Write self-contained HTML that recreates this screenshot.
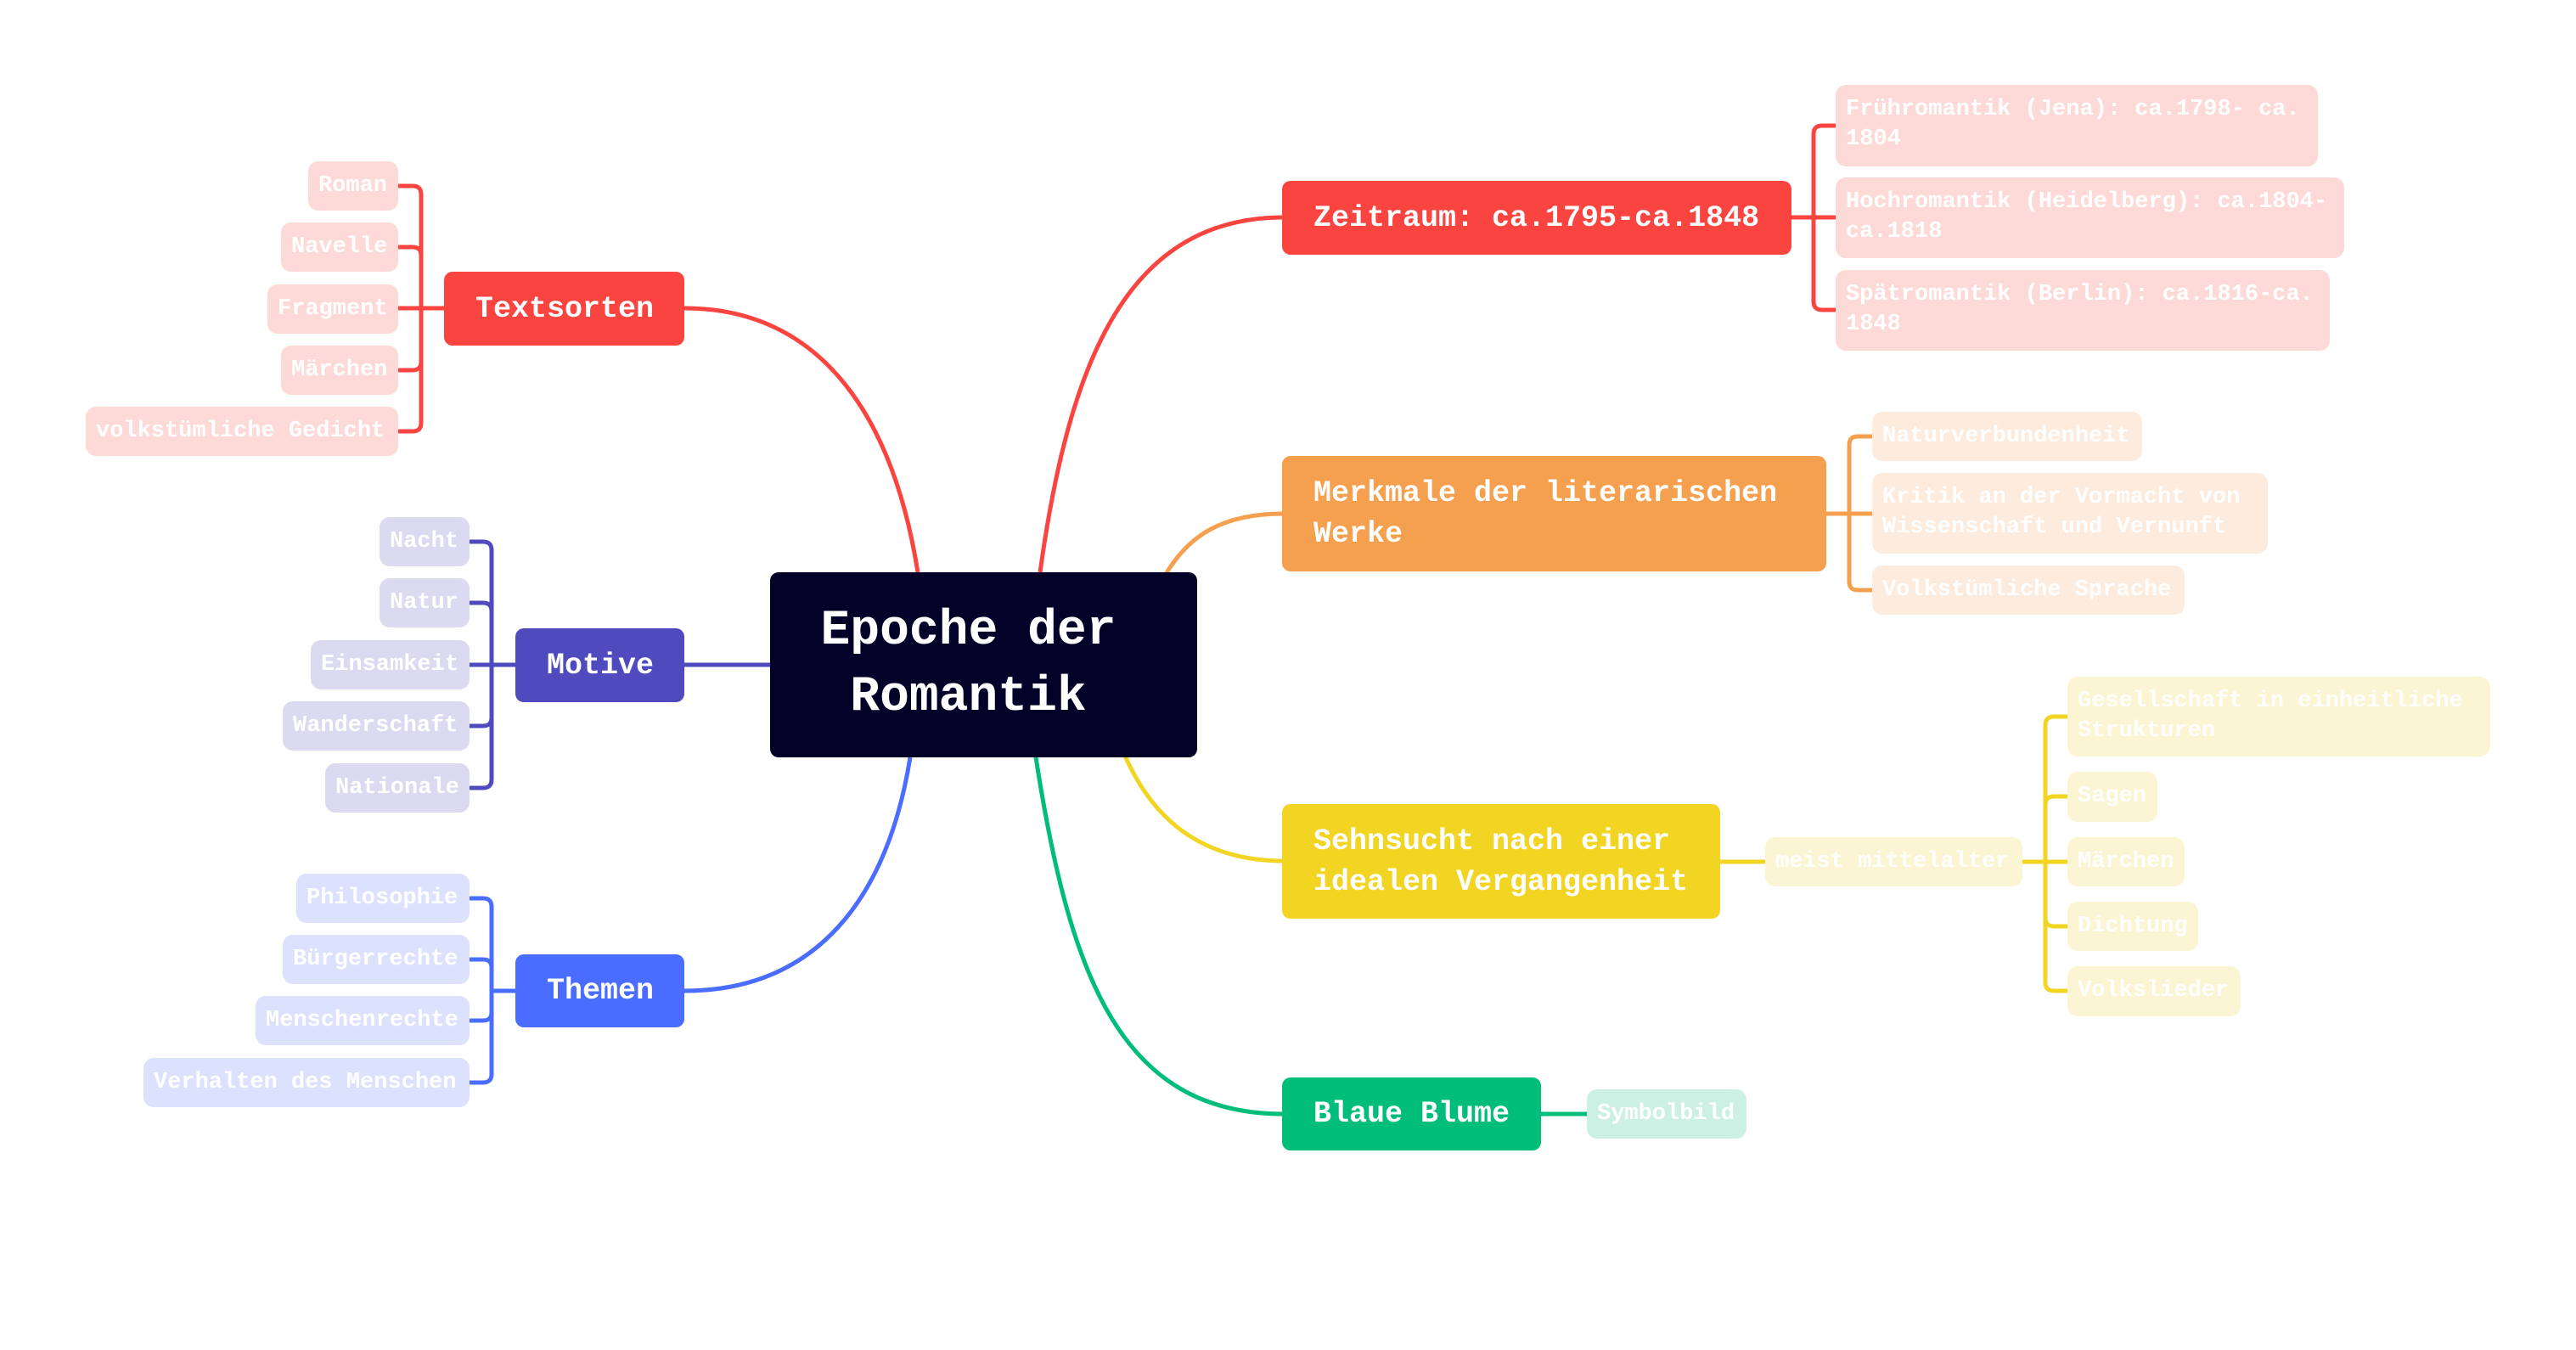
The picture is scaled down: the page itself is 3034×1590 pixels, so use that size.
<!DOCTYPE html>
<html><head><meta charset="utf-8"><style>
html,body{margin:0;padding:0;background:#fff;}
body{width:3034px;height:1590px;position:relative;overflow:hidden;font-family:"Liberation Mono","DejaVu Sans Mono",monospace;}
.n{position:absolute;box-sizing:border-box;color:#fff;font-weight:bold;border-radius:10px;}
.m{font-size:35px;line-height:48px;padding-left:37px;display:flex;align-items:center;}
.l{font-size:27px;line-height:35px;padding:0 12px;display:flex;align-items:center;border-radius:12px;white-space:nowrap;}
.l2{white-space:normal;align-items:flex-start;padding-top:12px;}
.R{background:#fa4440}.RL{background:#fddad8}
.O{background:#f5a04e}.OL{background:#fdebdd}
.Y{background:#f1d522}.YL{background:#fcf5d3}
.G{background:#00bd79}.GL{background:#ccf0e3}
.P{background:#4f4bbe}.PL{background:#dcdaf0}
.B{background:#4a6cff}.BL{background:#dce2fd}
</style></head><body>
<svg width="3034" height="1590" style="position:absolute;left:0;top:0" fill="none" stroke-width="5">
<path d="M806 363 C960 363 1050 480 1081 674" stroke="#fa4440"/>
<path d="M806 783 H910" stroke="#4f4bbe"/>
<path d="M806 1167 C960 1167 1045 1060 1072 892" stroke="#4a6cff"/>
<path d="M1225 674 C1260 420 1330 256 1512 256" stroke="#fa4440"/>
<path d="M1372 678 C1400 630 1440 605 1512 605" stroke="#f5a04e"/>
<path d="M1325 890 C1360 970 1420 1014 1512 1014" stroke="#f1d522"/>
<path d="M1220 892 C1260 1150 1320 1312 1512 1312" stroke="#00bd79"/>
<g stroke="#fa4440">
<path d="M523 363 H469"/>
<path d="M469 219 H486 Q496 219 496 229 V498 Q496 508 486 508 H469"/>
<path d="M469 291 H486 Q496 291 496 301"/>
<path d="M469 436 H486 Q496 436 496 426"/>
</g>
<g stroke="#4f4bbe">
<path d="M607 783 H553"/>
<path d="M553 638 H569 Q579 638 579 648 V918 Q579 928 569 928 H553"/>
<path d="M553 710 H569 Q579 710 579 720"/>
<path d="M553 855 H569 Q579 855 579 845"/>
</g>
<g stroke="#4a6cff">
<path d="M607 1167 H579"/>
<path d="M553 1058 H569 Q579 1058 579 1068 V1265 Q579 1275 569 1275 H553"/>
<path d="M553 1130 H569 Q579 1130 579 1140"/>
<path d="M553 1202 H569 Q579 1202 579 1192"/>
</g>
<g stroke="#fa4440">
<path d="M2108 256 H2162"/>
<path d="M2162 148 H2146 Q2136 148 2136 158 V355 Q2136 365 2146 365 H2162"/>
</g>
<g stroke="#f5a04e">
<path d="M2150 605 H2205"/>
<path d="M2205 514 H2188 Q2178 514 2178 524 V685 Q2178 695 2188 695 H2205"/>
</g>
<path d="M2026 1015 H2079" stroke="#f1d522"/>
<g stroke="#f1d522">
<path d="M2382 1015 H2435"/>
<path d="M2435 844 H2419 Q2409 844 2409 854 V1157 Q2409 1167 2419 1167 H2435"/>
<path d="M2435 938 H2419 Q2409 938 2409 948"/>
<path d="M2435 1091 H2419 Q2409 1091 2409 1081"/>
</g>
<path d="M1815 1312 H1869" stroke="#00bd79"/>
</svg>

<div class="n" style="left:907px;top:674px;width:503px;height:218px;background:#020229;font-size:58px;line-height:78px;display:flex;align-items:center;justify-content:center;text-align:center;padding-right:36px;font-weight:bold;">Epoche der<br>Romantik</div>

<div class="n m R" style="left:523px;top:320px;width:283px;height:87px;">Textsorten</div>
<div class="n m P" style="left:607px;top:740px;width:199px;height:87px;">Motive</div>
<div class="n m B" style="left:607px;top:1124px;width:199px;height:86px;">Themen</div>

<div class="n m R" style="left:1510px;top:213px;width:600px;height:87px;">Zeitraum: ca.1795-ca.1848</div>
<div class="n m O" style="left:1510px;top:537px;width:641px;height:136px;">Merkmale der literarischen<br>Werke</div>
<div class="n m Y" style="left:1510px;top:947px;width:516px;height:135px;">Sehnsucht nach einer<br>idealen Vergangenheit</div>
<div class="n m G" style="left:1510px;top:1269px;width:305px;height:86px;">Blaue Blume</div>

<div class="n l RL" style="left:363px;top:190px;width:106px;height:58px;">Roman</div>
<div class="n l RL" style="left:331px;top:262px;width:138px;height:58px;">Navelle</div>
<div class="n l RL" style="left:315px;top:335px;width:154px;height:58px;">Fragment</div>
<div class="n l RL" style="left:331px;top:407px;width:138px;height:58px;">Märchen</div>
<div class="n l RL" style="left:101px;top:479px;width:368px;height:58px;">volkstümliche Gedicht</div>

<div class="n l PL" style="left:447px;top:609px;width:106px;height:58px;">Nacht</div>
<div class="n l PL" style="left:447px;top:681px;width:106px;height:58px;">Natur</div>
<div class="n l PL" style="left:366px;top:754px;width:187px;height:58px;">Einsamkeit</div>
<div class="n l PL" style="left:333px;top:826px;width:220px;height:58px;">Wanderschaft</div>
<div class="n l PL" style="left:383px;top:899px;width:170px;height:58px;">Nationale</div>

<div class="n l BL" style="left:349px;top:1029px;width:204px;height:58px;">Philosophie</div>
<div class="n l BL" style="left:333px;top:1101px;width:220px;height:58px;">Bürgerrechte</div>
<div class="n l BL" style="left:301px;top:1173px;width:252px;height:58px;">Menschenrechte</div>
<div class="n l BL" style="left:169px;top:1246px;width:384px;height:58px;">Verhalten des Menschen</div>

<div class="n l l2 RL" style="left:2162px;top:100px;width:568px;height:96px;">Frühromantik (Jena): ca.1798- ca.<br>1804</div>
<div class="n l l2 RL" style="left:2162px;top:209px;width:599px;height:95px;">Hochromantik (Heidelberg): ca.1804-<br>ca.1818</div>
<div class="n l l2 RL" style="left:2162px;top:318px;width:582px;height:95px;">Spätromantik (Berlin): ca.1816-ca.<br>1848</div>

<div class="n l OL" style="left:2205px;top:485px;width:318px;height:58px;">Naturverbundenheit</div>
<div class="n l l2 OL" style="left:2205px;top:557px;width:466px;height:95px;">Kritik an der Vormacht von<br>Wissenschaft und Vernunft</div>
<div class="n l OL" style="left:2205px;top:666px;width:368px;height:58px;">Volkstümliche Sprache</div>

<div class="n l YL" style="left:2079px;top:986px;width:303px;height:58px;">meist mittelalter</div>
<div class="n l l2 YL" style="left:2435px;top:797px;width:498px;height:94px;">Gesellschaft in einheitliche<br>Strukturen</div>
<div class="n l YL" style="left:2435px;top:909px;width:106px;height:59px;">Sagen</div>
<div class="n l YL" style="left:2435px;top:986px;width:138px;height:58px;">Märchen</div>
<div class="n l YL" style="left:2435px;top:1062px;width:154px;height:58px;">Dichtung</div>
<div class="n l YL" style="left:2435px;top:1138px;width:204px;height:59px;">Volkslieder</div>

<div class="n l GL" style="left:1869px;top:1283px;width:188px;height:58px;">Symbolbild</div>
</body></html>
